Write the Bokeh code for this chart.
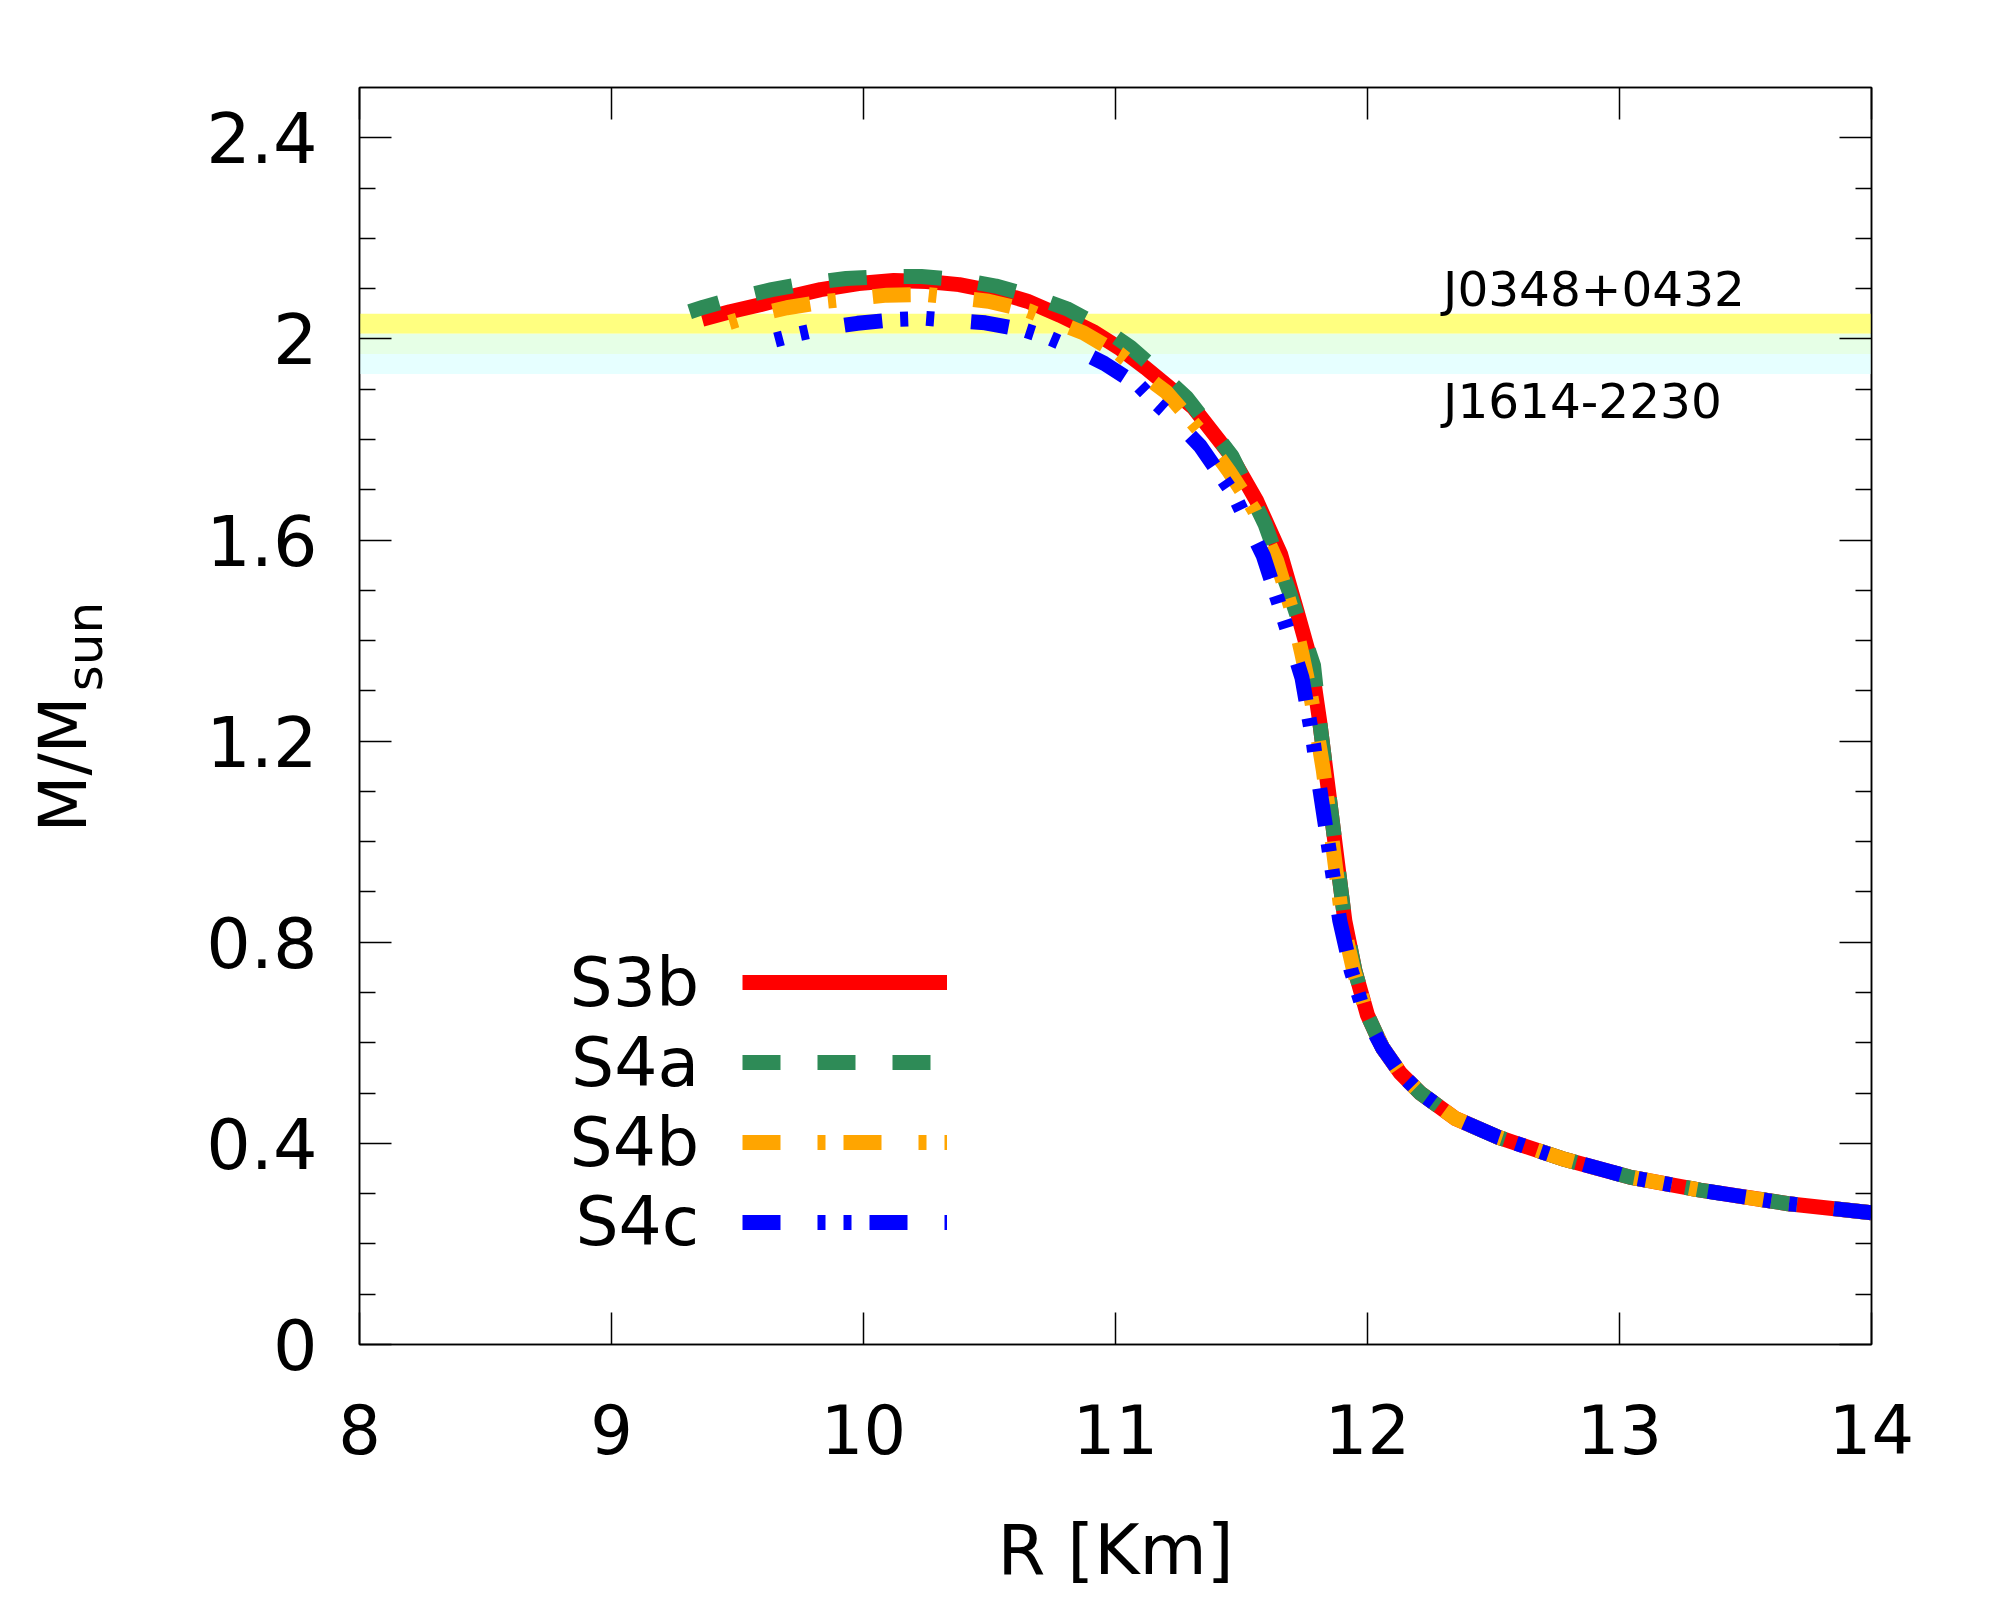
import math
from bokeh.plotting import figure
from bokeh.layouts import row
from bokeh.models import (Range1d, LinearAxis, FixedTicker, Label, Legend,
                          LegendItem, BoxAnnotation)
from bokeh.core.properties import value
from bokeh.embed import file_html
from bokeh.resources import INLINE

FONT = "DejaVu Sans"

# ---------------- data ----------------
x_ticks = [8, 9, 10, 11, 12, 13, 14]
x_tick_labels = ["8", "9", "10", "11", "12", "13", "14"]
y_ticks = [0, 0.4, 0.8, 1.2, 1.6, 2.0, 2.4]
y_tick_labels = ["0", "0.4", "0.8", "1.2", "1.6", "2", "2.4"]
y_minor_ticks = [0.1, 0.2, 0.3, 0.5, 0.6, 0.7, 0.9, 1.0, 1.1, 1.3, 1.4, 1.5,
                 1.7, 1.8, 1.9, 2.1, 2.2, 2.3]

x_label = "R [Km]"
y_label_main = "M/M"
y_label_sub = "sun"

pulsar_names = ["J0348+0432", "J1614-2230"]
pulsar_mass = [2.01, 1.97]
pulsar_err = [0.04, 0.04]

legend_labels = ["S3b", "S4a", "S4b", "S4c"]

# curves, ordered from the low-mass tail (large R) to the maximum-mass end
r_s3b = [14.0, 13.67, 13.32, 13.04, 12.77, 12.52, 12.35, 12.21, 12.13, 12.06,
         12.0, 11.95, 11.91, 11.885, 11.86, 11.835, 11.81, 11.775, 11.72,
         11.655, 11.56, 11.455, 11.31, 11.21, 11.12, 11.02, 10.91, 10.78,
         10.65, 10.52, 10.38, 10.25, 10.12, 9.98, 9.83, 9.71, 9.59, 9.47, 9.36]
m_s3b = [0.262, 0.280, 0.307, 0.333, 0.370, 0.412, 0.449, 0.500, 0.540, 0.590,
         0.655, 0.744, 0.843, 0.942, 1.042, 1.141, 1.240, 1.360, 1.459,
         1.572, 1.678, 1.770, 1.863, 1.905, 1.942, 1.980, 2.015, 2.047,
         2.075, 2.094, 2.108, 2.114, 2.116, 2.110, 2.098, 2.084, 2.068, 2.054, 2.039]

r_s4a = [14.0, 13.67, 13.32, 13.04, 12.77, 12.52, 12.35, 12.21, 12.13, 12.06,
         12.0, 11.95, 11.91, 11.885, 11.86, 11.835, 11.81, 11.786, 11.74,
         11.693, 11.594, 11.462, 11.283, 11.17, 11.06, 10.94, 10.807, 10.67,
         10.525, 10.38, 10.23, 10.08, 9.931, 9.78, 9.636, 9.50, 9.365, 9.31]
m_s4a = [0.262, 0.280, 0.307, 0.333, 0.370, 0.412, 0.449, 0.500, 0.540, 0.590,
         0.655, 0.744, 0.843, 0.942, 1.042, 1.141, 1.240, 1.350, 1.420,
         1.492, 1.631, 1.767, 1.883, 1.935, 1.983, 2.025, 2.060, 2.085,
         2.105, 2.118, 2.124, 2.124, 2.120, 2.111, 2.098, 2.082, 2.063, 2.054]

r_s4b = [14.0, 13.67, 13.32, 13.04, 12.77, 12.52, 12.35, 12.21, 12.13, 12.06,
         12.0, 11.945, 11.90, 11.875, 11.85, 11.825, 11.81, 11.775, 11.74,
         11.70, 11.64, 11.55, 11.45, 11.33, 11.20, 11.16, 11.016, 10.873,
         10.655, 10.496, 10.258, 10.093, 9.858, 9.696, 9.55, 9.43]
m_s4b = [0.262, 0.280, 0.307, 0.333, 0.370, 0.412, 0.449, 0.500, 0.540, 0.590,
         0.655, 0.744, 0.843, 0.942, 1.042, 1.141, 1.187, 1.290, 1.373,
         1.460, 1.558, 1.660, 1.737, 1.820, 1.895, 1.910, 1.970, 2.012,
         2.056, 2.075, 2.088, 2.087, 2.075, 2.062, 2.045, 2.027]

r_s4c = [14.0, 13.67, 13.32, 13.04, 12.77, 12.52, 12.35, 12.21, 12.13, 12.06,
         11.99, 11.935, 11.89, 11.86, 11.83, 11.80, 11.786, 11.74, 11.67,
         11.587, 11.47, 11.336, 11.25, 11.164, 11.096, 10.956, 10.85, 10.741,
         10.642, 10.483, 10.245, 10.139, 9.976, 9.85, 9.742, 9.643, 9.62]
m_s4c = [0.262, 0.280, 0.307, 0.333, 0.370, 0.412, 0.449, 0.500, 0.540, 0.590,
         0.655, 0.744, 0.843, 0.942, 1.042, 1.141, 1.194, 1.326, 1.440,
         1.568, 1.690, 1.787, 1.832, 1.871, 1.906, 1.951, 1.978, 2.001,
         2.017, 2.032, 2.041, 2.039, 2.031, 2.022, 2.010, 1.997, 1.993]

# ---------------- layout constants ----------------
TOTAL_H = 1592
LEFT_W = 150
MAIN_W = 1842
BORDER_TOP = 87
BORDER_BOTTOM = 248

# ---------------- y-axis title strip (left) ----------------
# its frame is aligned with the main frame by the row layout, so the range
# spans the same vertical pixels (value = TOTAL_H - page y)
lf = figure(width=LEFT_W, height=TOTAL_H, x_range=Range1d(0, LEFT_W),
            y_range=Range1d(BORDER_BOTTOM, TOTAL_H - BORDER_TOP),
            output_backend="svg", toolbar_location=None,
            x_axis_location=None, y_axis_location=None, min_border=0)
lf.grid.visible = False
lf.outline_line_color = None
lf.background_fill_color = "white"
lf.border_fill_color = "white"
lf.add_layout(Label(x=62.5, y=TOTAL_H - 764, text=y_label_main, angle=math.pi / 2,
                    text_font=FONT, text_font_size="66px", text_color="black",
                    text_align="center", text_baseline="middle"))
lf.add_layout(Label(x=84.5, y=TOTAL_H - 646, text=y_label_sub, angle=math.pi / 2,
                    text_font=FONT, text_font_size="50px", text_color="black",
                    text_align="center", text_baseline="middle"))

# ---------------- main figure ----------------
p = figure(width=MAIN_W, height=TOTAL_H, x_range=Range1d(8, 14), y_range=Range1d(0, 2.5),
           output_backend="svg", toolbar_location=None,
           x_axis_location=None, y_axis_location=None,
           min_border_left=209, min_border_right=121,
           min_border_top=BORDER_TOP, min_border_bottom=BORDER_BOTTOM)
p.grid.visible = False
p.background_fill_color = "white"
p.border_fill_color = "white"
p.outline_line_color = "black"
p.outline_line_width = 1.5

tick_style = dict(major_tick_in=32, major_tick_out=0, minor_tick_in=16, minor_tick_out=0,
                  axis_line_width=1.5, major_tick_line_width=1.5, minor_tick_line_width=1.5)

ax_b = LinearAxis(ticker=FixedTicker(ticks=x_ticks, minor_ticks=[]),
                  major_label_overrides=dict(zip(x_ticks, x_tick_labels)),
                  major_label_text_font=FONT, major_label_text_font_size="67px",
                  major_label_text_color="black", major_label_standoff=59,
                  axis_label=x_label, axis_label_text_font=FONT,
                  axis_label_text_font_size="69px", axis_label_text_font_style="normal",
                  axis_label_text_color="black", axis_label_standoff=53, **tick_style)
p.add_layout(ax_b, "below")

ax_t = LinearAxis(ticker=FixedTicker(ticks=x_ticks, minor_ticks=[]),
                  major_label_text_color=None, major_label_text_font_size="1px",
                  major_label_standoff=0, **tick_style)
p.add_layout(ax_t, "above")

y_ticker = FixedTicker(ticks=y_ticks, minor_ticks=y_minor_ticks)
ax_l = LinearAxis(ticker=y_ticker,
                  major_label_overrides=dict(zip(y_ticks, y_tick_labels)),
                  major_label_text_font=FONT, major_label_text_font_size="70px",
                  major_label_text_color="black", major_label_standoff=42, **tick_style)
p.add_layout(ax_l, "left")

ax_r = LinearAxis(ticker=y_ticker, major_label_text_color=None,
                  major_label_text_font_size="1px", major_label_standoff=0, **tick_style)
p.add_layout(ax_r, "right")

# ---------------- pulsar bands ----------------
lo0, hi0 = pulsar_mass[0] - pulsar_err[0], pulsar_mass[0] + pulsar_err[0]
lo1, hi1 = pulsar_mass[1] - pulsar_err[1], pulsar_mass[1] + pulsar_err[1]
bands = [
    (max(hi1, lo0), hi0, "#ffff80"),            # J0348+0432 only
    (max(lo0, lo1), min(hi0, hi1), "#e6ffe6"),  # overlap of both
    (lo1, min(lo0, hi1), "#e6ffff"),            # J1614-2230 only
]
for b, t, c in bands:
    p.add_layout(BoxAnnotation(bottom=b, top=t, fill_color=c, fill_alpha=1.0,
                               line_color=None, level="underlay"))

p.add_layout(Label(x=12.30, y=2.0987, text=pulsar_names[0], text_font=FONT,
                   text_font_size="48.5px", text_color="black",
                   text_baseline="middle", text_align="left"))
p.add_layout(Label(x=12.30, y=1.8762, text=pulsar_names[1], text_font=FONT,
                   text_font_size="48.5px", text_color="black",
                   text_baseline="middle", text_align="left"))

# ---------------- curves ----------------
common = dict(line_width=15, line_cap="butt", line_join="round")
r1 = p.line(r_s3b, m_s3b, line_color="#ff0000", **common)
r2 = p.line(r_s4a, m_s4a, line_color="#2e8b57", line_dash="38 37", **common)
r3 = p.line(r_s4b, m_s4b, line_color="#ffa500", line_dash="38 37 8 18", **common)
r4 = p.line(r_s4c, m_s4c, line_color="#0000ff", line_dash="38 37 8 18 8 18", **common)

legend = Legend(items=[LegendItem(label=value(""), renderers=[r]) for r in (r1, r2, r3, r4)],
                location=(383, 82), glyph_width=205, glyph_height=80,
                label_width=0, label_height=80, label_standoff=0,
                spacing=0, padding=0, margin=0,
                border_line_color=None, background_fill_alpha=0)
p.add_layout(legend)

for lab, yy in zip(legend_labels, [0.7208, 0.5609, 0.4019, 0.2440]):
    p.add_layout(Label(x=9.348, y=yy, text=lab, text_font=FONT, text_font_size="68px",
                       text_color="black", text_align="right", text_baseline="middle"))

layout = row(lf, p)
open("out.html", "w").write(file_html(layout, INLINE))
